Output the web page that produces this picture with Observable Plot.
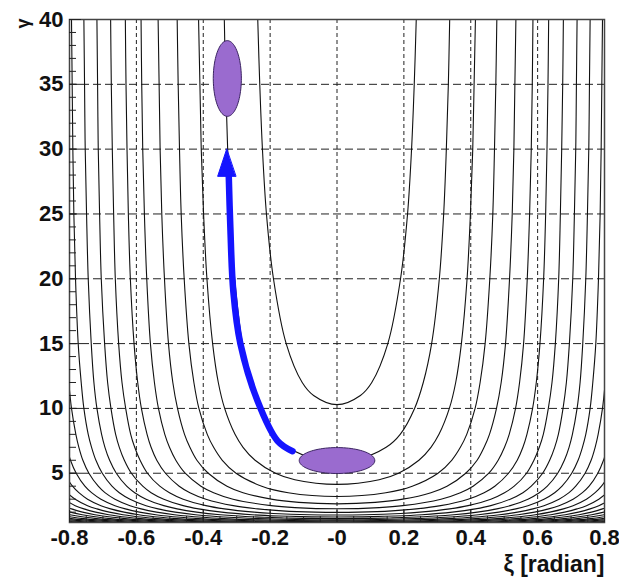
<!DOCTYPE html>
<html><head><meta charset="utf-8">
<script src="https://cdn.jsdelivr.net/npm/d3@7"></script>
<script src="https://cdn.jsdelivr.net/npm/@observablehq/plot@0.6"></script>
<style>body{margin:0;background:#fff}</style>
</head><body><div id="chart"></div>
<script>
// Axis ticks and labels
const xTicks = [-0.8, -0.6, -0.4, -0.2, 0, 0.2, 0.4, 0.6, 0.8];
const xTickLabels = ["-0.8", "-0.6", "-0.4", "-0.2", "-0", "0.2", "0.4", "0.6", "0.8"];
const yTicks = [5, 10, 15, 20, 25, 30, 35, 40];
const yTickLabels = ["5", "10", "15", "20", "25", "30", "35", "40"];
const xGrid = [-0.6, -0.4, -0.2, 0, 0.2, 0.4, 0.6];
const yGrid = [5, 10, 15, 20, 25, 30, 35];
const xMinorTicks = d3.range(-16, 17).map(k => k * 0.05);
const yMinorTicks = d3.range(2, 41);
const xTitle = "ξ [radian]";
const yTitle = "γ";

// Contour lines: right branch [ξ, γ] (curves are symmetric in ξ)
const c01 = [[0,10.29],[0.07,11],[0.104,12],[0.152,15],[0.19,20],[0.211,25],[0.223,30],[0.231,35],[0.237,40]];
const c02 = [[0,5.88],[0.053,6],[0.147,7],[0.189,8],[0.232,10],[0.258,12],[0.283,15],[0.306,20],[0.319,25],[0.327,30],[0.333,35],[0.337,40]];
const c03 = [[0,4.14],[0.126,4.5],[0.184,5],[0.245,6],[0.281,7],[0.305,8],[0.336,10],[0.355,12],[0.372,15],[0.389,20],[0.399,25],[0.406,30],[0.41,35],[0.414,40]];
const c04 = [[0,3.21],[0.146,3.5],[0.225,4],[0.302,5],[0.343,6],[0.369,7],[0.388,8],[0.413,10],[0.428,12],[0.443,15],[0.457,20],[0.466,25],[0.471,30],[0.475,35],[0.478,40]];
const c05 = [[0,2.64],[0.114,2.75],[0.197,3],[0.281,3.5],[0.329,4],[0.385,5],[0.419,6],[0.44,7],[0.456,8],[0.477,10],[0.491,12],[0.504,15],[0.516,20],[0.524,25],[0.529,30],[0.532,35],[0.535,40]];
const c06 = [[0,2.26],[0.126,2.35],[0.197,2.5],[0.311,3],[0.369,3.5],[0.407,4],[0.454,5],[0.482,6],[0.501,7],[0.515,8],[0.534,10],[0.546,12],[0.558,15],[0.569,20],[0.576,25],[0.581,30],[0.584,35],[0.586,40]];
const c07 = [[0,1.98],[0.065,2],[0.164,2.1],[0.237,2.25],[0.31,2.5],[0.392,3],[0.44,3.5],[0.472,4],[0.513,5],[0.539,6],[0.556,7],[0.568,8],[0.585,10],[0.596,12],[0.607,15],[0.618,20],[0.624,25],[0.628,30],[0.631,35],[0.633,40]];
const c08 = [[0,1.78],[0.083,1.8],[0.19,1.9],[0.248,2],[0.337,2.25],[0.392,2.5],[0.46,3],[0.501,3.5],[0.53,4],[0.567,5],[0.589,6],[0.605,7],[0.617,8],[0.632,10],[0.643,12],[0.653,15],[0.663,20],[0.668,25],[0.672,30],[0.675,35],[0.677,40]];
const c09 = [[0,1.62],[0.105,1.65],[0.174,1.7],[0.254,1.8],[0.345,2],[0.414,2.25],[0.46,2.5],[0.518,3],[0.556,3.5],[0.581,4],[0.615,5],[0.636,6],[0.651,7],[0.662,8],[0.676,10],[0.686,12],[0.695,15],[0.705,20],[0.71,25],[0.714,30],[0.716,35],[0.718,40]];
const c10 = [[0,1.5],[0.1,1.52],[0.158,1.55],[0.218,1.6],[0.349,1.8],[0.42,2],[0.478,2.25],[0.518,2.5],[0.571,3],[0.605,3.5],[0.629,4],[0.66,5],[0.68,6],[0.694,7],[0.704,8],[0.718,10],[0.727,12],[0.735,15],[0.744,20],[0.749,25],[0.753,30],[0.755,35],[0.757,40]];
const c11 = [[0,1.4],[0.17,1.45],[0.239,1.5],[0.324,1.6],[0.423,1.8],[0.484,2],[0.535,2.25],[0.571,2.5],[0.619,3],[0.651,3.5],[0.673,4],[0.702,5],[0.721,6],[0.734,7],[0.744,8],[0.757,10],[0.765,12],[0.774,15],[0.782,20],[0.787,25],[0.79,30],[0.792,35],[0.794,40]];
const c12 = [[0,1.33],[0.14,1.35],[0.235,1.4],[0.338,1.5],[0.403,1.6],[0.486,1.8],[0.54,2],[0.586,2.25],[0.619,2.5],[0.664,3],[0.694,3.5],[0.714,4],[0.742,5],[0.76,6],[0.772,7],[0.781,8],[0.794,10],[0.802,12],[0.81,15]];
const c13 = [[0,1.26],[0.093,1.27],[0.191,1.3],[0.336,1.4],[0.415,1.5],[0.469,1.6],[0.542,1.8],[0.591,2],[0.633,2.25],[0.664,2.5],[0.706,3],[0.734,3.5],[0.754,4],[0.78,5],[0.797,6],[0.808,7]];
const c14 = [[0,1.21],[0.215,1.25],[0.306,1.3],[0.412,1.4],[0.479,1.5],[0.527,1.6],[0.593,1.8],[0.637,2],[0.677,2.25],[0.706,2.5],[0.746,3],[0.772,3.5],[0.791,4],[0.816,5]];
const c15 = [[0,1.17],[0.215,1.2],[0.389,1.3],[0.477,1.4],[0.536,1.5],[0.579,1.6],[0.64,1.8],[0.681,2],[0.718,2.25],[0.746,2.5],[0.783,3],[0.808,3.5]];
const c16 = [[0,1.13],[0.183,1.15],[0.322,1.2],[0.457,1.3],[0.534,1.4],[0.587,1.5],[0.626,1.6],[0.683,1.8],[0.722,2],[0.757,2.25],[0.783,2.5],[0.819,3]];
const c17 = [[0,1.1],[0.302,1.15],[0.401,1.2],[0.516,1.3],[0.585,1.4],[0.634,1.5],[0.671,1.6],[0.724,1.8],[0.761,2],[0.794,2.25],[0.819,2.5]];
const c18 = [[0.385,1.15],[0.467,1.2],[0.569,1.3],[0.632,1.4],[0.678,1.5],[0.712,1.6],[0.762,1.8],[0.798,2],[0.83,2.25]];
const c19 = [[0.454,1.15],[0.525,1.2],[0.617,1.3],[0.676,1.4],[0.719,1.5],[0.752,1.6],[0.799,1.8],[0.833,2]];
const c20 = [[0.513,1.15],[0.577,1.2],[0.662,1.3],[0.717,1.4],[0.758,1.5],[0.789,1.6],[0.834,1.8]];
const c21 = [[0.566,1.15],[0.625,1.2],[0.704,1.3],[0.756,1.4],[0.795,1.5],[0.824,1.6]];
const c22 = [[0.615,1.15],[0.67,1.2],[0.744,1.3],[0.794,1.4],[0.83,1.5]];
const c23 = [[0.66,1.15],[0.711,1.2],[0.782,1.3],[0.829,1.4]];
const c24 = [[0.702,1.15],[0.75,1.2],[0.818,1.3]];
const c25 = [[0.742,1.15],[0.788,1.2],[0.852,1.3]];
const contours = [c01,c02,c03,c04,c05,c06,c07,c08,c09,c10,c11,c12,c13,c14,c15,c16,c17,c18,c19,c20,c21,c22,c23,c24,c25];

// Purple beam ellipses (centre and semi-axes in data units)
const ellipseCenterX = [0, -0.328];
const ellipseCenterY = [5.98, 35.45];
const ellipseRadiusX = [0.113, 0.042];
const ellipseRadiusY = [1.0, 2.92];

// Blue arrow path (ξ, γ) and head
const arrowPathX = [-0.133, -0.178, -0.238, -0.289, -0.31, -0.319, -0.324];
const arrowPathY = [6.7, 7.5, 10.6, 15, 19, 24, 28.2];
const arrowHeadX = [-0.330, -0.357, -0.303];
const arrowHeadY = [30.0, 27.9, 27.9];

// Build tables for the library
const contourPoints = [];
contours.forEach((c, i) => {
  if (c[0][0] === 0) {
    c.slice(1).reverse().forEach(([x, y]) => contourPoints.push({id: "c" + i, x: -x, y}));
    c.forEach(([x, y]) => contourPoints.push({id: "c" + i, x, y}));
  } else {
    c.forEach(([x, y]) => contourPoints.push({id: "l" + i, x: -x, y}));
    c.forEach(([x, y]) => contourPoints.push({id: "r" + i, x, y}));
  }
});
const ellipsePoints = ellipseCenterX.flatMap((cx, i) => d3.range(90).map(k => {
  const t = 2 * Math.PI * k / 90;
  return {id: i, x: cx + ellipseRadiusX[i] * Math.cos(t), y: ellipseCenterY[i] + ellipseRadiusY[i] * Math.sin(t)};
}));
const arrowPath = arrowPathX.map((x, i) => ({x, y: arrowPathY[i]}));
const arrowHead = arrowHeadX.map((x, i) => ({x, y: arrowHeadY[i]}));

const font = "'Liberation Sans', Arial, Helvetica, sans-serif";
const chart = Plot.plot({
  width: 619,
  height: 583,
  marginLeft: 69,
  marginRight: 15,
  marginTop: 19,
  marginBottom: 61,
  x: {domain: [-0.8, 0.8]},
  y: {domain: [1.2, 40]},
  style: {fontFamily: font, background: "#fff", color: "#111"},
  marks: [
    Plot.ruleX(xGrid, {stroke: "#222", strokeWidth: 1, strokeDasharray: "4,3"}),
    Plot.ruleY(yGrid, {stroke: "#222", strokeWidth: 1, strokeDasharray: "8,4"}),
    Plot.line(contourPoints, {x: "x", y: "y", z: "id", curve: "catmull-rom", stroke: "#111", strokeWidth: 1.1, clip: true}),
    Plot.line(arrowPath, {x: "x", y: "y", curve: "catmull-rom", stroke: "#1414ff", strokeWidth: 6.5, strokeLinecap: "round"}),
    Plot.line(arrowHead, {x: "x", y: "y", curve: "linear-closed", fill: "#1414ff", stroke: "#1414ff", strokeWidth: 1}),
    Plot.line(ellipsePoints, {x: "x", y: "y", z: "id", curve: "linear-closed", fill: "#9a6bcf", stroke: "#3b2462", strokeWidth: 1}),
    Plot.frame({stroke: "#444", strokeWidth: 1.5}),
    Plot.axisY(yMinorTicks, {tickSize: -7, tickFormat: () => "", label: null, stroke: "#222"}),
    Plot.axisY(yTicks, {tickSize: -12, tickPadding: 18, tickFormat: d => yTickLabels[yTicks.indexOf(d)], fontSize: 22, fontWeight: "bold", label: null, stroke: "#222"}),
    Plot.axisX(xMinorTicks, {tickSize: -6, tickFormat: () => "", label: null, stroke: "#222"}),
    Plot.axisX(xTicks, {tickSize: -12, tickPadding: 19, tickFormat: d => xTickLabels[xTicks.indexOf(d)], fontSize: 22, fontWeight: "bold", label: null, stroke: "#222"}),
    Plot.text([yTitle], {frameAnchor: "top-left", dx: -53, dy: 9, rotate: -90, fontSize: 18, fontWeight: "bold", fill: "#111"}),
    Plot.text([xTitle], {frameAnchor: "bottom-right", textAnchor: "end", dy: 49, fontSize: 23, fontWeight: "bold", fill: "#111"})
  ]
});
document.getElementById("chart").appendChild(chart);
</script>
</body></html>
